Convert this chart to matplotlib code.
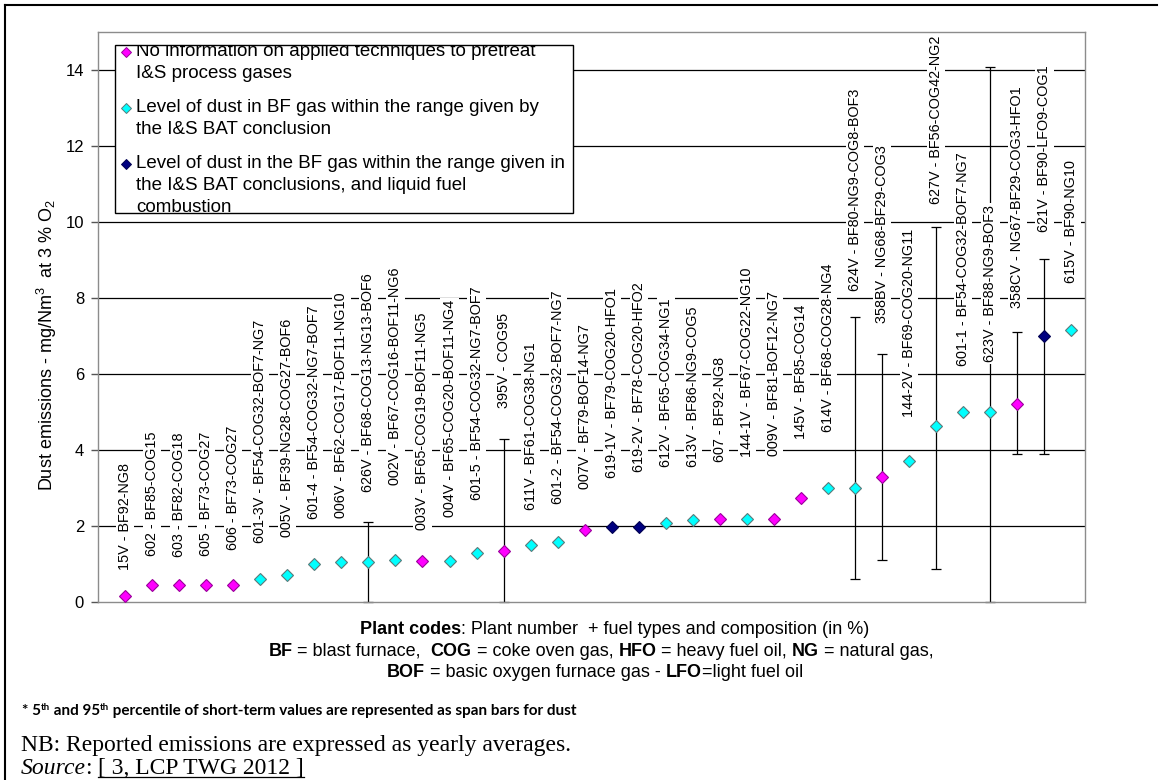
import matplotlib
matplotlib.use("Agg")
import matplotlib.pyplot as plt
from matplotlib.patches import Rectangle
from matplotlib.lines import Line2D
from matplotlib.transforms import Bbox

plt.rcParams['font.family'] = ['Liberation Sans', 'DejaVu Sans']
plt.rcParams['mathtext.fontset'] = 'custom'
plt.rcParams['mathtext.rm'] = 'Liberation Sans'
plt.rcParams['mathtext.it'] = 'Liberation Sans:italic'
plt.rcParams['mathtext.bf'] = 'Liberation Sans:bold'

# ---------------- data ----------------
plant_codes = [
    "15V - BF92-NG8", "602 - BF85-COG15", "603 - BF82-COG18", "605 - BF73-COG27",
    "606 - BF73-COG27", "601-3V - BF54-COG32-BOF7-NG7", "005V - BF39-NG28-COG27-BOF6",
    "601-4 - BF54-COG32-NG7-BOF7", "006V - BF62-COG17-BOF11-NG10",
    "626V - BF68-COG13-NG13-BOF6", "002V - BF67-COG16-BOF11-NG6",
    "003V - BF65-COG19-BOF11-NG5", "004V - BF65-COG20-BOF11-NG4",
    "601-5 - BF54-COG32-NG7-BOF7", "395V - COG95", "611V - BF61-COG38-NG1",
    "601-2 - BF54-COG32-BOF7-NG7", "007V - BF79-BOF14-NG7", "619-1V - BF79-COG20-HFO1",
    "619-2V - BF78-COG20-HFO2", "612V - BF65-COG34-NG1", "613V - BF86-NG9-COG5",
    "607 - BF92-NG8", "144-1V - BF67-COG22-NG10", "009V - BF81-BOF12-NG7",
    "145V - BF85-COG14", "614V - BF68-COG28-NG4", "624V - BF80-NG9-COG8-BOF3",
    "358BV - NG68-BF29-COG3", "144-2V - BF69-COG20-NG11", "627V - BF56-COG42-NG2",
    "601-1 - BF54-COG32-BOF7-NG7", "623V - BF88-NG9-BOF3", "358CV - NG67-BF29-COG3-HFO1",
    "621V - BF90-LFO9-COG1", "615V - BF90-NG10",
]
dust = [0.17, 0.46, 0.46, 0.46, 0.46, 0.61, 0.70, 0.99, 1.04, 1.04, 1.10, 1.08,
        1.08, 1.28, 1.34, 1.50, 1.58, 1.89, 1.98, 1.98, 2.07, 2.15, 2.19, 2.19,
        2.19, 2.74, 2.99, 3.01, 3.29, 3.70, 4.64, 4.99, 4.99, 5.22, 6.99, 7.17]
group = ["N", "N", "N", "N", "N", "C", "C", "C", "C", "C", "C", "N",
         "C", "C", "N", "C", "C", "N", "L", "L", "C", "C", "N", "C",
         "N", "N", "C", "C", "N", "C", "C", "C", "C", "N", "L", "C"]
# 5th / 95th percentiles of short-term values (None = not reported)
p5 = [None] * 9 + [0.0] + [None] * 4 + [0.0] + [None] * 12 + [0.6, 1.1, None, 0.88, None, 0.0, 3.9, 3.9, None]
p95 = [None] * 9 + [2.11] + [None] * 4 + [4.28] + [None] * 12 + [7.51, 6.52, None, 9.86, None, 14.08, 7.1, 9.02, None]

legend_labels = {
    "N": ["No information on applied techniques to pretreat", "I&S process gases"],
    "C": ["Level of dust in BF gas within the range given by", "the I&S BAT conclusion"],
    "L": ["Level of dust in the BF gas within the range given in",
          "the I&S BAT conclusions, and liquid fuel", "combustion"],
}

# ---------------- layout / style ----------------
# vertical anchor (data units) of the bottom of each rotated label
label_base = [0.84, 1.21, 1.19, 1.21, 1.37, 1.55, 1.72, 2.18, 2.20, 2.90, 3.08, 1.89,
              2.23, 2.68, 5.10, 2.42, 2.58, 2.97, 3.26, 3.43, 3.56, 3.56, 3.69, 3.82,
              3.84, 4.28, 4.48, 8.19, 7.35, 4.88, 10.47, 6.21, 6.32, 7.75, 9.73, 8.39]
style = {
    "N": dict(mfc="#FF00FF", mec="#9A009A"),
    "C": dict(mfc="#00FFFF", mec="#5A7A7A"),
    "L": dict(mfc="#000080", mec="#000050"),
}

W, H = 1163, 780
fig = plt.figure(figsize=(W / 100, H / 100), dpi=100)
fig.patch.set_facecolor("white")


def fx(px):
    return px / W


def fy(py):
    return 1 - py / H


ax = fig.add_axes([fx(98), fy(602), (1085 - 98) / W, (602 - 32) / H])
ax.set_xlim(-1, 35.5)
ax.set_ylim(0, 15)
ax.set_yticks(range(0, 15, 2))
ax.set_xticks([])
for s in ax.spines.values():
    s.set_color("#8C8C8C")
    s.set_linewidth(1.0)
ax.tick_params(axis="y", length=5, width=1, color="#555555", labelsize=12, pad=5)
for y in range(2, 15, 2):
    ax.axhline(y, color="black", lw=0.9, zorder=0.5)

xs = list(range(len(dust)))

# error bars (span bars)
for i in xs:
    if p5[i] is not None:
        ax.errorbar([i], [dust[i]], yerr=[[dust[i] - p5[i]], [p95[i] - dust[i]]],
                    fmt="none", ecolor="black", elinewidth=0.9, capsize=3.5,
                    capthick=0.9, zorder=2, clip_on=False)

# markers
for i in xs:
    ax.plot([i], [dust[i]], linestyle="none", marker="D", markersize=6.6,
            markeredgewidth=0.8, zorder=4, clip_on=False, **style[group[i]])

# data labels
for i in xs:
    ax.text(i, label_base[i], plant_codes[i], rotation=90, ha="center", va="bottom",
            fontsize=10.4, zorder=3.5, clip_on=False,
            bbox=dict(facecolor="white", edgecolor="none", pad=1.6))

# y label
fig.text(fx(47), fy(345), r"Dust emissions - mg/Nm$\mathregular{^3}$  at 3 % O$\mathregular{_2}$",
         rotation=90, ha="center", va="center", fontsize=13)

# ---------------- legend (manual box) ----------------
lx0, ly0, lx1, ly1 = 115, 45, 573, 213
ax.add_patch(Rectangle((fx(lx0), fy(ly1)), fx(lx1) - fx(lx0), fy(ly0) - fy(ly1),
                       transform=fig.transFigure, facecolor="white", edgecolor="black",
                       lw=1.0, zorder=6, clip_on=False))
clipbox = Bbox.from_extents(lx0, H - ly1, lx1, H - ly0)
entry_y = {"N": 52, "C": 108, "L": 164}
for g in ["N", "C", "L"]:
    y0 = entry_y[g]
    ax.add_line(Line2D([fx(126)], [fy(y0)], transform=fig.transFigure, marker="D",
                       markersize=5.2, markeredgewidth=0.7, linestyle="none", zorder=7,
                       clip_on=False, **style[g]))
    for k, line in enumerate(legend_labels[g]):
        t = fig.text(fx(136), fy(y0 + 22 * k), line, ha="left", va="center",
                     fontsize=13.5, zorder=7)
        t.set_clip_box(clipbox)
        t.set_clip_on(True)

# ---------------- annotation texts ----------------
renderer = fig.canvas.get_renderer()


def seg_width(s, **kw):
    a = fig.text(0, 0, "X" + s + "X", **kw)
    b = fig.text(0, 0, "XX", **kw)
    w = a.get_window_extent(renderer).width - b.get_window_extent(renderer).width
    a.remove()
    b.remove()
    return w


def draw_segments(px, py, segments, center=True, base_kw=None):
    base_kw = base_kw or {}
    widths = []
    for s, kw in segments:
        k = dict(base_kw)
        k.update({kk: v for kk, v in kw.items() if kk != "dy"})
        widths.append(seg_width(s, **k))
    total = sum(widths)
    cur = px - total / 2 if center else px
    out = []
    for (s, kw), w in zip(segments, widths):
        k = dict(base_kw)
        dy = kw.get("dy", 0)
        k.update({kk: v for kk, v in kw.items() if kk != "dy"})
        t = fig.text(fx(cur), fy(py - dy), s, ha="left", va="baseline", **k)
        out.append((t, cur, w))
        cur += w
    return out


B = dict(fontweight="bold")
R = dict()
base = dict(fontsize=13, family=["Liberation Sans"])
draw_segments(615, 634, [("Plant codes", B), (": Plant number  + fuel types and composition (in %)", R)],
              base_kw=base)
draw_segments(601, 656, [("BF", B), (" = blast furnace,  ", R), ("COG", B), (" = coke oven gas, ", R),
                         ("HFO", B), (" = heavy fuel oil, ", R), ("NG", B), (" = natural gas,", R)],
              base_kw=base)
draw_segments(595, 677, [("BOF", B), (" = basic oxygen furnace gas - ", R), ("LFO", B),
                         ("=light fuel oil", R)], base_kw=base)

fbase = dict(fontsize=11, family=["Lato", "Liberation Sans"], fontweight="bold")
sup = dict(fontsize=7, dy=5)
draw_segments(22, 715, [("* 5", {}), ("th", sup), (" and 95", {}), ("th", sup),
                        (" percentile of short-term values are represented as span bars for dust", {})],
              center=False, base_kw=fbase)

sbase = dict(fontsize=17, family=["Liberation Serif"])
draw_segments(21, 751, [("NB: Reported emissions are expressed as yearly averages.", {})],
              center=False, base_kw=sbase)
segs = draw_segments(21, 774, [("Source", dict(fontstyle="italic")), (": ", {}),
                               ("[ 3, LCP TWG 2012 ]", {})], center=False, base_kw=sbase)
t, x0, w = segs[-1]
fig.add_artist(Line2D([fx(x0), fx(x0 + w)], [fy(777), fy(777)], color="black", lw=0.9))

# outer frame
fig.add_artist(Line2D([fx(5), fx(5)], [fy(5), fy(780)], color="black", lw=1.5))
fig.add_artist(Line2D([fx(5), fx(1157)], [fy(5), fy(5)], color="black", lw=1.5))

fig.savefig("out.png", dpi=100, facecolor="white")
